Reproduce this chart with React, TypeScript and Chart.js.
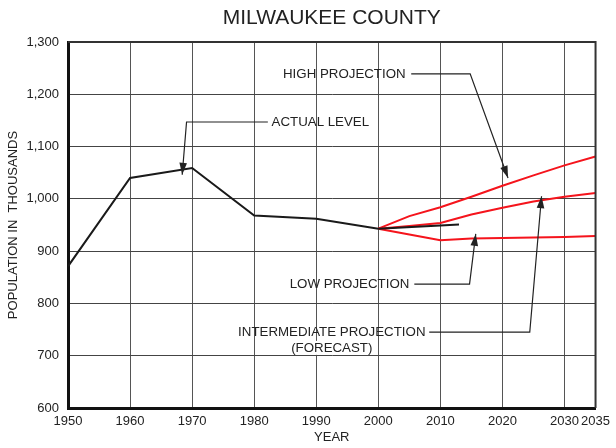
import React, { useEffect, useRef } from "react";
import { Chart, registerables } from "chart.js";
Chart.register(...registerables);

const TITLE = "MILWAUKEE COUNTY";
const X_TITLE = "YEAR";
const Y_TITLE = "POPULATION IN  THOUSANDS";

const ACTUAL_YEARS = [1950, 1960, 1970, 1980, 1990, 2000, 2010, 2013];
const ACTUAL_VALUES = [871, 1040, 1059, 968, 962, 943, 949, 951];

const HIGH_YEARS = [2000, 2005, 2010, 2015, 2020, 2025, 2030, 2035];
const HIGH_VALUES = [943, 967, 984, 1004, 1025, 1045, 1064, 1081];

const INTERMEDIATE_YEARS = [2000, 2005, 2010, 2015, 2020, 2025, 2030, 2035];
const INTERMEDIATE_VALUES = [943, 948, 954, 970, 983, 995, 1004, 1011];

const LOW_YEARS = [2000, 2005, 2010, 2015, 2020, 2025, 2030, 2035];
const LOW_VALUES = [943, 932, 921, 924, 925, 926, 927, 929];

const X_TICKS = [1950, 1960, 1970, 1980, 1990, 2000, 2010, 2020, 2030, 2035];
const Y_TICKS = [600, 700, 800, 900, 1000, 1100, 1200, 1300];

// Callout labels, anchored in data units (year, thousands)
const CALLOUTS = [
  { text: "ACTUAL LEVEL", at: [1982.8, 1147], align: "left", path: [[1982.2, 1147], [1969.1, 1147], [1968.4, 1046]] },
  { text: "HIGH PROJECTION", at: [2004.4, 1239], align: "right", path: [[2005.3, 1239], [2014.8, 1239], [2020.9, 1040]] },
  { text: "LOW PROJECTION", at: [2005.0, 837], align: "right", path: [[2005.8, 837], [2014.7, 837], [2015.7, 933]] },
  { text: "INTERMEDIATE PROJECTION", at: [2007.6, 745], align: "right", path: [[2008.2, 745], [2024.4, 745], [2026.3, 1005]] },
  { text: "(FORECAST)", at: [1992.5, 715], align: "center", path: [] as number[][], bg: true },
];

const FONT = "'Liberation Sans', Arial, sans-serif";

function toXY(xs: number[], ys: number[]) {
  return xs.map((x, i) => ({ x, y: ys[i] }));
}

const calloutPlugin = {
  id: "callouts",
  afterDraw(chart: any) {
    const { ctx, scales, chartArea } = chart;
    const sx = scales.x, sy = scales.y;
    ctx.save();
    // frame top & right
    ctx.strokeStyle = "#333";
    ctx.lineWidth = 2;
    ctx.beginPath();
    ctx.moveTo(chartArea.left, chartArea.top);
    ctx.lineTo(chartArea.right, chartArea.top);
    ctx.lineTo(chartArea.right, chartArea.bottom);
    ctx.stroke();

    // title centered over the plot area
    ctx.fillStyle = "#222";
    ctx.font = "21px " + FONT;
    ctx.textAlign = "center";
    ctx.textBaseline = "middle";
    ctx.fillText(TITLE, (chartArea.left + chartArea.right) / 2, 18);

    ctx.font = "13.3px " + FONT;
    for (const c of CALLOUTS) {
      const tx = sx.getPixelForValue(c.at[0]);
      const ty = sy.getPixelForValue(c.at[1]);
      ctx.textAlign = c.align as CanvasTextAlign;
      if ((c as any).bg) {
        const w = ctx.measureText(c.text).width;
        ctx.fillStyle = "#fff";
        ctx.fillRect(tx - w / 2 - 1, ty - 7, w + 2, 14);
      }
      ctx.fillStyle = "#222";
      ctx.fillText(c.text, tx, ty);
      if (c.path.length > 1) {
        const pts = c.path.map((p) => [sx.getPixelForValue(p[0]), sy.getPixelForValue(p[1])]);
        ctx.strokeStyle = "#222";
        ctx.lineWidth = 1.2;
        ctx.beginPath();
        ctx.moveTo(pts[0][0], pts[0][1]);
        for (let i = 1; i < pts.length; i++) ctx.lineTo(pts[i][0], pts[i][1]);
        ctx.stroke();
        const a = pts[pts.length - 2], b = pts[pts.length - 1];
        const ang = Math.atan2(b[1] - a[1], b[0] - a[0]);
        const L = 12, H = 3.8;
        ctx.fillStyle = "#222";
        ctx.beginPath();
        ctx.moveTo(b[0], b[1]);
        ctx.lineTo(b[0] - L * Math.cos(ang) - H * Math.sin(ang), b[1] - L * Math.sin(ang) + H * Math.cos(ang));
        ctx.lineTo(b[0] - L * Math.cos(ang) + H * Math.sin(ang), b[1] - L * Math.sin(ang) - H * Math.cos(ang));
        ctx.closePath();
        ctx.fill();
      }
    }
    ctx.restore();
  },
};

export default function App() {
  const ref = useRef<HTMLCanvasElement | null>(null);
  useEffect(() => {
    document.body.style.margin = "0";
    const red = "#f5141c";
    const chart = new Chart(ref.current as HTMLCanvasElement, {
      type: "line",
      data: {
        datasets: [
          { label: "Actual", data: toXY(ACTUAL_YEARS, ACTUAL_VALUES), borderColor: "#1a1a1a", borderWidth: 2, pointRadius: 0, tension: 0 },
          { label: "High", data: toXY(HIGH_YEARS, HIGH_VALUES), borderColor: red, borderWidth: 2, pointRadius: 0, tension: 0 },
          { label: "Intermediate", data: toXY(INTERMEDIATE_YEARS, INTERMEDIATE_VALUES), borderColor: red, borderWidth: 2, pointRadius: 0, tension: 0 },
          { label: "Low", data: toXY(LOW_YEARS, LOW_VALUES), borderColor: red, borderWidth: 2, pointRadius: 0, tension: 0 },
        ],
      },
      options: {
        animation: false,
        responsive: false,
        devicePixelRatio: 1,
        layout: { padding: { left: 0, right: 18, top: 42, bottom: 0 } },
        plugins: {
          legend: { display: false },
          tooltip: { enabled: false },
          title: { display: false },
        },
        scales: {
          x: {
            type: "linear",
            min: 1950,
            max: 2035,
            afterBuildTicks: (s: any) => { s.ticks = X_TICKS.map((v) => ({ value: v })); },
            afterFit: (s: any) => { s.height = 40; },
            ticks: { color: "#222", font: { family: FONT, size: 13 }, padding: 6, maxRotation: 0, autoSkip: false, callback: (v: any) => String(v) },
            grid: { color: "#555", lineWidth: 1, drawTicks: false },
            border: { color: "#111", width: 3 },
            title: { display: true, text: X_TITLE, color: "#222", font: { family: FONT, size: 13 }, padding: { top: 0, bottom: 3 } },
          },
          y: {
            type: "linear",
            min: 600,
            max: 1300,
            afterBuildTicks: (s: any) => { s.ticks = Y_TICKS.map((v) => ({ value: v })); },
            afterFit: (s: any) => { s.width = 68; },
            ticks: { color: "#222", font: { family: FONT, size: 13 }, padding: 9, callback: (v: any) => Number(v).toLocaleString("en-US") },
            grid: { color: "#444", lineWidth: 1, drawTicks: false },
            border: { color: "#111", width: 3 },
            title: { display: true, text: Y_TITLE, color: "#222", font: { family: FONT, size: 13 }, padding: { top: 6, bottom: 0 } },
          },
        },
      },
      plugins: [calloutPlugin],
    } as any);
    return () => chart.destroy();
  }, []);
  return <canvas ref={ref} width={616} height={448} style={{ display: "block" }} />;
}
